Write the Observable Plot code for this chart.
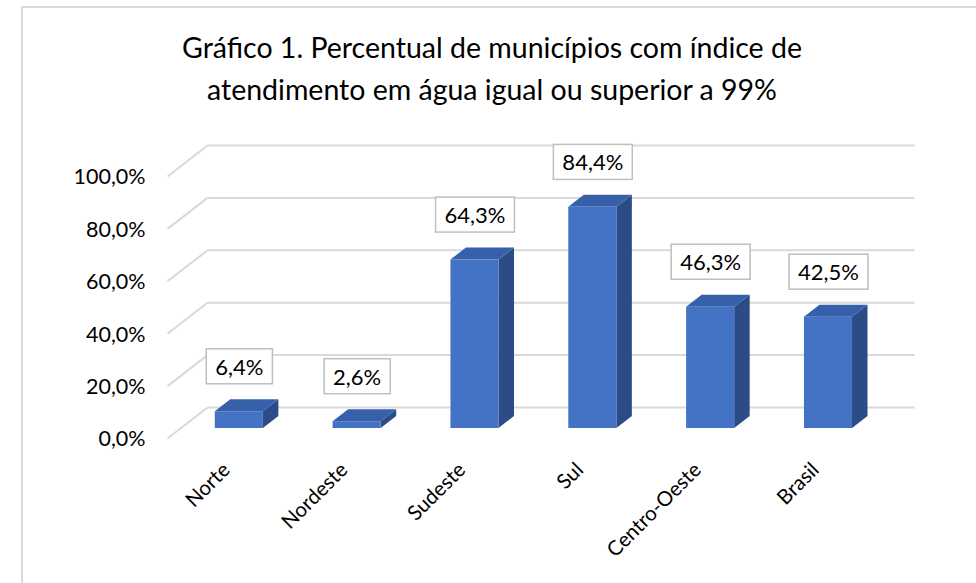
<!DOCTYPE html>
<html>
<head>
<meta charset="utf-8">
<script src="https://cdn.jsdelivr.net/npm/d3@7"></script>
<script src="https://cdn.jsdelivr.net/npm/@observablehq/plot@0.6"></script>
<style>
  html, body { margin: 0; padding: 0; background: #fff; }
  #wrap { position: relative; width: 976px; height: 583px; overflow: hidden; font-family: Lato, "Open Sans", sans-serif; }
  #border { position: absolute; left: 21px; top: 6px; width: 1000px; height: 700px; border-left: 2px solid #d9d9d9; border-top: 2px solid #d9d9d9; }
  #title { position: absolute; left: 22px; width: 940px; top: 26px; text-align: center; font-size: 28.5px; line-height: 42px; color: #000; }
  #chart { position: absolute; left: 0; top: 0; }
</style>
</head>
<body>
<div id="wrap">
  <div id="border"></div>
  <div id="chart"></div>
  <div id="title">Gráfico 1. Percentual de municípios com índice de<br>atendimento em água igual ou superior a 99%</div>
</div>
<script>
// ---- data ----
const categories = ["Norte", "Nordeste", "Sudeste", "Sul", "Centro-Oeste", "Brasil"];
const values = [6.4, 2.6, 64.3, 84.4, 46.3, 42.5];
const valueLabels = ["6,4%", "2,6%", "64,3%", "84,4%", "46,3%", "42,5%"];
const yTicks = [0, 20, 40, 60, 80, 100];
const yTickLabels = ["0,0%", "20,0%", "40,0%", "60,0%", "80,0%", "100,0%"];

// ---- pseudo-3D geometry (in scale units) ----
const kx = 40 / 117.8;   // x shift per unit depth (category steps)
const ky = 31 / 2.62;    // y shift per unit depth (percent units)
const zFront = 10 / 31, zBack = 22 / 31;
const halfW = 0.204;
const P = (i, v, z) => [i + z * kx, v + z * ky];

const bars = categories.map((c, i) => ({c, i, v: values[i], label: valueLabels[i]}));

const sidePts = bars.flatMap(b => [zFront, zBack].map(z => ({
  c: b.c, x: P(b.i + halfW, 0, z)[0], y1: P(0, 0, z)[1], y2: P(0, b.v, z)[1]
})));
const topPts = bars.flatMap(b => [zFront, zBack].map(z => ({
  c: b.c, y: P(0, b.v, z)[1], x1: P(b.i - halfW, 0, z)[0], x2: P(b.i + halfW, 0, z)[0]
})));
const fronts = bars.map(b => ({
  c: b.c, x1: P(b.i - halfW, 0, zFront)[0], x2: P(b.i + halfW, 0, zFront)[0],
  y1: P(0, 0, zFront)[1], y2: P(0, b.v, zFront)[1]
}));
const labelPts = bars.map(b => ({label: b.label, x: P(b.i, b.v, zFront)[0], y: P(b.i, b.v, zFront)[1]}));

const iMin = -0.5, iMax = categories.length - 0.5;
const gridBack = yTicks.map(t => ({x1: P(iMin, t, 1)[0], y1: P(iMin, t, 1)[1], x2: P(iMax, t, 1)[0], y2: P(iMax, t, 1)[1]}));
const gridDiag = yTicks.map(t => ({x1: P(iMin, t, 0)[0], y1: P(iMin, t, 0)[1], x2: P(iMin, t, 1)[0], y2: P(iMin, t, 1)[1]}));

const gridColor = "#d9d9d9";
const chart = Plot.plot({
  width: 976,
  height: 583,
  margin: 0,
  style: {background: "transparent", fontFamily: "Lato, 'Open Sans', sans-serif"},
  x: {type: "linear", domain: [iMin, iMax], range: [167, 874], axis: null},
  y: {type: "linear", domain: [0, 100], range: [438, 176], axis: null},
  marks: [
    Plot.link(gridBack, {x1: "x1", y1: "y1", x2: "x2", y2: "y2", stroke: gridColor, strokeWidth: 2}),
    Plot.link(gridDiag, {x1: "x1", y1: "y1", x2: "x2", y2: "y2", stroke: gridColor, strokeWidth: 2}),
    Plot.text(yTicks, {x: iMin, y: d => d, text: (d, i) => yTickLabels[i], textAnchor: "end", dx: -22, dy: 1, fontSize: 21.5, fill: "#000"}),
    Plot.areaY(sidePts, {x: "x", y1: "y1", y2: "y2", z: "c", fill: "#2c4c88", curve: "linear"}),
    Plot.areaX(topPts, {y: "y", x1: "x1", x2: "x2", z: "c", fill: "#3760ab", curve: "linear"}),
    Plot.rect(fronts, {x1: "x1", x2: "x2", y1: "y1", y2: "y2", fill: "#4472c4"}),
    Plot.text(labelPts, {x: "x", y: "y", text: "label", dy: -44, fontSize: 22, fill: "#000"}),
    Plot.text(categories, {x: (d, i) => i, y: 0, text: d => d, rotate: -45, textAnchor: "end", dy: 28, dx: 0, fontSize: 20.5, fill: "#000"})
  ]
});
document.getElementById("chart").append(chart);

// boxes behind value labels
const labelSet = new Set(valueLabels);
d3.select(chart).selectAll("text").each(function() {
  if (!labelSet.has(this.textContent)) return;
  const bb = this.getBBox();
  const r = document.createElementNS("http://www.w3.org/2000/svg", "rect");
  r.setAttribute("x", bb.x - 9);
  r.setAttribute("y", bb.y - 4);
  r.setAttribute("width", bb.width + 18);
  r.setAttribute("height", bb.height + 8);
  r.setAttribute("fill", "#fff");
  r.setAttribute("stroke", "#bfbfbf");
  r.setAttribute("stroke-width", "1.5");
  const tr = this.getAttribute("transform");
  if (tr) r.setAttribute("transform", tr);
  this.parentNode.insertBefore(r, this);
});
</script>
</body>
</html>
